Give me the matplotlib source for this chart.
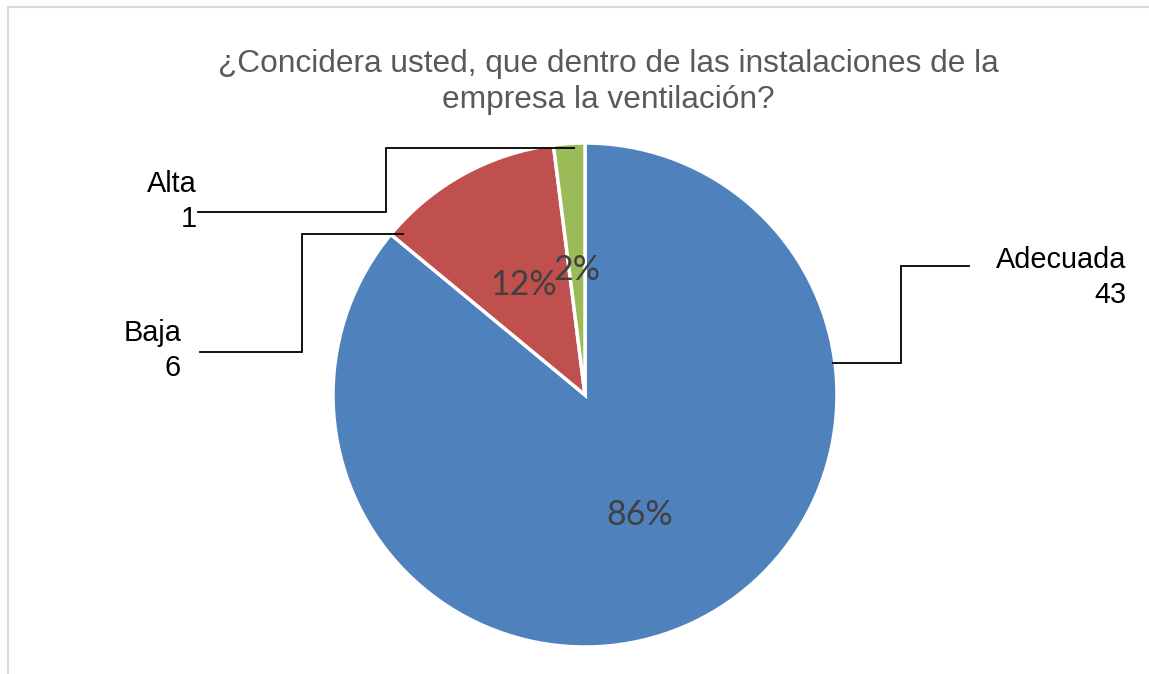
"""Pie chart: ventilation rating inside the company premises."""

import matplotlib
matplotlib.use('Agg')
import matplotlib.pyplot as plt

W, H = 1149, 674

categories = ['Adecuada', 'Baja', 'Alta']
counts = [43, 6, 1]
colors = ['#4F81BD', '#C0504D', '#9BBB59']
title = '¿Concidera usted, que dentro de las instalaciones de la\nempresa la ventilación?'

# layout in pixels (y measured from the top of the image)
center_px = (585, 395)
radius_px = 252
leader_paths = {
    'Adecuada': [(833, 363), (901, 363), (901, 266), (969, 266)],
    'Baja': [(200, 352), (302, 352), (302, 234), (403, 234)],
    'Alta': [(198, 212), (386, 212), (386, 148), (574, 148)],
}
label_anchor = {  # right edge, baseline of first line
    'Adecuada': (1126, 268),
    'Baja': (181, 341),
    'Alta': (197, 192),
}
pct_pos = {
    'Adecuada': (640, 515),
    'Baja': (524, 285),
    'Alta': (577, 270),
}


def fy(y):
    return H - y


fig = plt.figure(figsize=(W / 100, H / 100), dpi=100)
ax = fig.add_axes([0, 0, 1, 1])

ax.pie(counts, colors=colors, startangle=90, counterclock=False,
       center=(center_px[0], fy(center_px[1])), radius=radius_px,
       wedgeprops=dict(edgecolor='white', linewidth=2.5))

# pie() resets the limits, so set them afterwards
ax.set_xlim(0, W)
ax.set_ylim(0, H)
ax.set_aspect('equal')
ax.axis('off')

total = sum(counts)
for name, n in zip(categories, counts):
    xs = [p[0] for p in leader_paths[name]]
    ys = [fy(p[1]) for p in leader_paths[name]]
    ax.plot(xs, ys, color='black', lw=1.3, solid_joinstyle='miter')
    lx, ly = label_anchor[name]
    ax.text(lx, fy(ly), name, ha='right', va='baseline', fontsize=20.8,
            family='Liberation Sans', color='black')
    ax.text(lx, fy(ly + 35), str(n), ha='right', va='baseline', fontsize=20.8,
            family='Liberation Sans', color='black')
    px, py = pct_pos[name]
    ax.text(px, fy(py), f'{round(100 * n / total)}%', ha='center', va='center',
            fontsize=24.5, family='Lato', color='#404040')

ax.text(608, fy(82), title, ha='center', va='center', fontsize=22.8,
        family='Liberation Sans', color='#595959', linespacing=1.3)

# chart area border (cropped on the right and bottom)
ax.plot([7.5, 7.5, W], [0, fy(6.5), fy(6.5)], color='#D9D9D9', lw=1.5)

fig.savefig('out.png', dpi=100)
